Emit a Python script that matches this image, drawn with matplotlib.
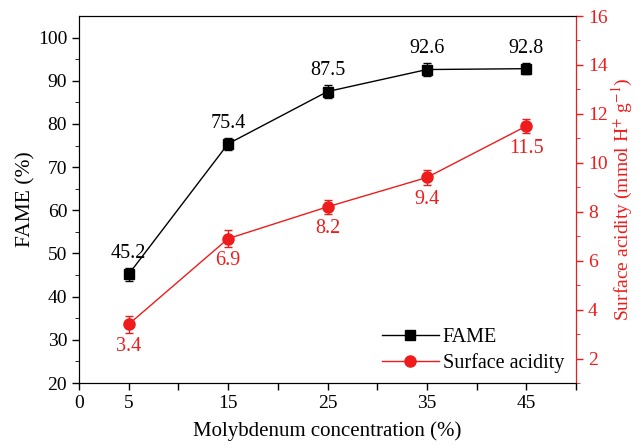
import matplotlib.pyplot as plt
from matplotlib.lines import Line2D
import numpy as np

plt.rcParams['font.family'] = ['Liberation Serif', 'DejaVu Serif']
plt.rcParams['mathtext.fontset'] = 'stix'

conc = [5, 15, 25, 35, 45]
fame = [45.2, 75.4, 87.5, 92.6, 92.8]
fame_err = [1.5, 1.4, 1.5, 1.5, 1.2]
acid = [3.4, 6.9, 8.2, 9.4, 11.5]
acid_err = [0.35, 0.35, 0.3, 0.3, 0.3]

red = '#ee1c1c'

fig = plt.figure(figsize=(6.38, 4.45), dpi=100)
ax = fig.add_axes([79/638, 1-383/445, (576-79)/638, (383-16)/445])
ax2 = ax.twinx()

ax.errorbar(conc, fame, yerr=fame_err, color='black', marker='s', ms=7,
            lw=1, capsize=3, elinewidth=1)
ax2.errorbar(conc, acid, yerr=acid_err, color=red, marker='o', ms=8,
             lw=1, capsize=3, elinewidth=1)

for x, y in zip(conc, fame):
    ax.annotate(f'{y}', (x, y), xytext=(0, 8), textcoords='offset points',
                ha='center', va='bottom', fontsize=14.5)
for x, y in zip(conc, acid):
    ax2.annotate(f'{y}', (x, y), xytext=(0, -9), textcoords='offset points',
                 ha='center', va='top', fontsize=14.5, color=red)

ax.set_xlim(0, 50)
ax.set_ylim(20, 105)
ax2.set_ylim(1, 16)
ax.set_xticks([0, 5, 10, 15, 20, 25, 30, 35, 40, 45, 50])
ax.set_xticklabels(['0', '5', '', '15', '', '25', '', '35', '', '45', ''])
ax.set_yticks(np.arange(20, 101, 10))
ax.set_yticks(np.arange(25, 105, 10), minor=True)
ax2.set_yticks(np.arange(2, 17, 2))
ax2.set_yticks(np.arange(1, 16, 2), minor=True)

ax.tick_params(labelsize=14, length=5, width=1)
ax.tick_params(which='minor', length=3)
ax2.tick_params(labelsize=14, length=5, width=1, colors=red)
ax2.tick_params(which='minor', length=3, colors=red)
ax2.spines['right'].set_color(red)

ax.set_xlabel('Molybdenum concentration (%)', fontsize=15, labelpad=7)
ax.set_ylabel('FAME (%)', fontsize=15.5, labelpad=2)
ax2.set_ylabel('Surface acidity (mmol H$^{+}$ g$^{-1}$)', fontsize=14, color=red,
               labelpad=2)

h1 = Line2D([], [], color='black', marker='s', ms=7, lw=1)
h2 = Line2D([], [], color=red, marker='o', ms=8, lw=1)
ax.legend([h1, h2], ['FAME', 'Surface acidity'], loc='lower right',
          bbox_to_anchor=(1.0, -0.005), frameon=False, fontsize=14.5,
          handlelength=2.8, handletextpad=0.2, borderaxespad=0.2,
          labelspacing=0.3)

fig.savefig('out.png', dpi=100)
